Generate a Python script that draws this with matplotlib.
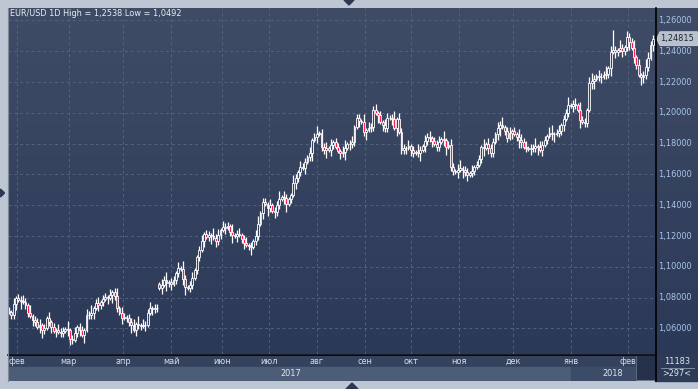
import numpy as np
import matplotlib
matplotlib.use("Agg")
import matplotlib.pyplot as plt
from matplotlib.colors import LinearSegmentedColormap
from matplotlib.patches import Rectangle, Polygon

# daily closes, EUR/USD, Feb 2017 - Feb 2018
closes = [
    1.0705, 1.0690, 1.0760, 1.0800, 1.0785, 1.0780, 1.0770, 1.0755, 1.0700, 1.0680,
    1.0655, 1.0640, 1.0610, 1.0620, 1.0590, 1.0600, 1.0670, 1.0640, 1.0610, 1.0585,
    1.0590, 1.0580, 1.0570, 1.0585, 1.0595, 1.0590, 1.0530, 1.0525, 1.0570, 1.0610,
    1.0590, 1.0560, 1.0590, 1.0690, 1.0685, 1.0700, 1.0733, 1.0765, 1.0755, 1.0770,
    1.0790, 1.0805, 1.0800, 1.0815, 1.0837, 1.0810, 1.0733, 1.0700, 1.0670, 1.0675,
    1.0665, 1.0640, 1.0620, 1.0590, 1.0630, 1.0625, 1.0615, 1.0625, 1.0620, 1.0700,
    1.0733, 1.0725, 1.0735, 1.0730, 1.0862, 1.0880, 1.0915, 1.0895, 1.0900, 1.0890,
    1.0915, 1.0960, 1.0990, 1.0985, 1.0920, 1.0870, 1.0865, 1.0885, 1.0930, 1.0980,
    1.1065, 1.1110, 1.1170, 1.1215, 1.1195, 1.1210, 1.1200, 1.1190, 1.1170, 1.1210,
    1.1240, 1.1260, 1.1255, 1.1265, 1.1225, 1.1205, 1.1200, 1.1215, 1.1210, 1.1180,
    1.1155, 1.1145, 1.1135, 1.1130, 1.1170, 1.1200, 1.1280, 1.1350, 1.1420, 1.1410,
    1.1380, 1.1400, 1.1360, 1.1355, 1.1400, 1.1440, 1.1455, 1.1450, 1.1410, 1.1440,
    1.1467, 1.1545, 1.1580, 1.1616, 1.1649, 1.1640, 1.1680, 1.1714, 1.1740, 1.1824,
    1.1844, 1.1860, 1.1870, 1.1780, 1.1760, 1.1770, 1.1760, 1.1790, 1.1810, 1.1780,
    1.1750, 1.1740, 1.1745, 1.1770, 1.1795, 1.1800, 1.1810, 1.1908, 1.1968, 1.1950,
    1.1940, 1.1876, 1.1890, 1.1900, 1.1910, 1.2016, 1.2000, 1.1985, 1.1940, 1.1920,
    1.1900, 1.1970, 1.1965, 1.1960, 1.1900, 1.1960, 1.1876, 1.1760, 1.1770, 1.1775,
    1.1785, 1.1760, 1.1740, 1.1745, 1.1740, 1.1760, 1.1785, 1.1820, 1.1846, 1.1840,
    1.1815, 1.1795, 1.1780, 1.1810, 1.1830, 1.1825, 1.1780, 1.1790, 1.1650, 1.1620,
    1.1616, 1.1630, 1.1645, 1.1630, 1.1616, 1.1597, 1.1610, 1.1625, 1.1650, 1.1660,
    1.1700, 1.1780, 1.1775, 1.1795, 1.1770, 1.1740, 1.1810, 1.1860, 1.1900, 1.1920,
    1.1910, 1.1880, 1.1835, 1.1870, 1.1880, 1.1860, 1.1846, 1.1825, 1.1810, 1.1780,
    1.1770, 1.1765, 1.1770, 1.1775, 1.1785, 1.1780, 1.1760, 1.1790, 1.1824, 1.1850,
    1.1870, 1.1860, 1.1865, 1.1870, 1.1880, 1.1920, 1.1960, 1.2000, 1.2050, 1.2045,
    1.2060, 1.2050, 1.2016, 1.1955, 1.1940, 1.1935, 1.2016, 1.2192, 1.2205, 1.2220,
    1.2240, 1.2230, 1.2235, 1.2245, 1.2250, 1.2290, 1.2396, 1.2410, 1.2396, 1.2410,
    1.2422, 1.2400, 1.2430, 1.2493, 1.2460, 1.2422, 1.2364, 1.2310, 1.2245, 1.2230,
    1.2245, 1.2296, 1.2354, 1.2439, 1.24815,
]
first_open = 1.0715
gap_open = {64: 1.0890}          # french election gap
high_fix = {257: 1.2538}
low_fix = {26: 1.0492}

# wick sizes, in 0.0013
wick_up = ("21312232141223121312" "13221412312213241231" "22131241321223141322"
           "31221324122131421231" "12312214231322141231" "23121341221312241321"
           "14213221312412231312" "21341231221413223121" "32124132213121421323"
           "12231412321341221312" "21413221324123121432" "31224132213412312241"
           "23142213421322413121" "42132241312432214231")
wick_dn = ("12231412213213421231" "31221342123141223132" "21314221312241322131"
           "13221314231221341221" "22131241322131241312" "31241221314213221341"
           "21322131241312241321" "13241322131241221413" "22131412231321241322"
           "31221341221314231221" "12413221341221312431" "21322413121341223121"
           "32141221341231224132" "13224132143221312241")

months = ["фев", "мар", "апр", "май", "июн", "июл", "авг", "сен", "окт", "ноя", "дек", "янв", "фев"]
month_start = [3.4, 25.5, 48.5, 69, 90.6, 110.6, 131, 151.5, 171, 191.5, 214.5, 239, 263.4]
years = ["2017", "2018"]
year_pos = [120, 257]
price_ticks = [1.06, 1.08, 1.10, 1.12, 1.14, 1.16, 1.18, 1.20, 1.22, 1.24, 1.26]

W, H = 698, 389
XLIM = (-0.43, 274.9)
YLIM = (1.04344, 1.2681)

closes = np.array(closes)
n = len(closes)
x = np.arange(n)
opens = np.r_[first_open, closes[:-1]]
for k, v in gap_open.items():
    opens[k] = v
body_lo = np.minimum(opens, closes)
body_hi = np.maximum(opens, closes)
highs = body_hi + np.array([int(c) for c in wick_up[:n]]) * 0.0013
lows = body_lo - np.array([int(c) for c in wick_dn[:n]]) * 0.0013
for k, v in high_fix.items():
    highs[k] = v
for k, v in low_fix.items():
    lows[k] = v
up = closes >= opens

plt.rcParams['font.family'] = ['DejaVu Sans']


def box(x0, y0, x1, y1):
    return [x0 / W, 1 - y1 / H, (x1 - x0) / W, (y1 - y0) / H]


def gradient(ax, top, bottom):
    cmap = LinearSegmentedColormap.from_list('g', [bottom, top])
    ax.imshow(np.linspace(0, 1, 256).reshape(-1, 1), cmap=cmap, aspect='auto',
              extent=[0, 1, 0, 1], transform=ax.transAxes, origin='lower', zorder=0)


fig = plt.figure(figsize=(W / 100, H / 100), dpi=100)
fig.patch.set_facecolor('#bdc6d2')

# main price panel
ax = fig.add_axes(box(8, 8, 655, 354))
gradient(ax, '#404c66', '#2b3958')
for v in price_ticks:
    ax.axhline(v, color='#53627e', lw=0.7, ls=(0, (3, 3)), zorder=1)
for m in month_start:
    ax.axvline(m, color='#53627e', lw=0.7, ls=(0, (3, 3)), zorder=1)
ax.vlines(x, lows, highs, color='white', lw=0.9, zorder=2)
ax.bar(x, np.maximum(body_hi - body_lo, 0.0002), bottom=body_lo, width=0.8,
       color=np.where(up, '#36435f', '#ff1f4f'), edgecolor='white', linewidth=0.6, zorder=3)
ax.set_xlim(*XLIM)
ax.set_ylim(*YLIM)
ax.set_xticks([])
ax.set_yticks([])
for s in ax.spines.values():
    s.set_visible(False)
ax.text(2 / 647, 1 - 6 / 346, "EUR/USD 1D High = 1,2538 Low = 1,0492", transform=ax.transAxes,
        color='#e8eef6', fontsize=5.9, va='center', ha='left')

# right price scale
rax = fig.add_axes(box(655, 8, 698, 354))
gradient(rax, '#404c66', '#2b3958')
rax.set_xlim(0, 43)
rax.set_ylim(*YLIM)
for v in price_ticks:
    rax.text(3, v, f"{v:.5f}".replace('.', ','), color='#a9c6ea', fontsize=5.9, va='center', ha='left')
last = closes[-1]
half = 7 / 1540
rax.add_patch(Polygon([(1.5, last), (5, last + half), (42.5, last + half), (42.5, last - half), (5, last - half)],
                      closed=True, facecolor='#b9c1cd', edgecolor='#d6dce4', lw=0.5, zorder=4))
rax.text(5.5, last, f"{last:.5f}".replace('.', ','), color='#1e2636', fontsize=5.9, va='center', ha='left', zorder=5)
rax.axis('off')

# date scale
dax = fig.add_axes(box(8, 354, 655, 381))
dax.set_xlim(*XLIM)
dax.set_ylim(381, 354)
dax.add_patch(Rectangle((XLIM[0], 355), XLIM[1] - XLIM[0], 12, color='#34425e'))
dax.add_patch(Rectangle((XLIM[0], 367), 239 - XLIM[0], 14, color='#4d5d78'))
dax.add_patch(Rectangle((239, 367), 266.8 - 239, 14, color='#3c4b67'))
for m, lab in zip(month_start, months):
    dax.text(m, 361, lab, color='#d5deea', fontsize=5.9, ha='center', va='center', clip_on=True)
for p, lab in zip(year_pos, years):
    dax.text(p, 373.5, lab, color='#e2e8f0', fontsize=5.9, ha='center', va='center')
dax.add_patch(Rectangle((266.8, 355), XLIM[1] - 266.8, 25, facecolor='#26324c', edgecolor='#6d7b93', lw=0.5, zorder=5))
dax.axis('off')

# overlay for frame details
oax = fig.add_axes([0, 0, 1, 1])
oax.set_xlim(0, W)
oax.set_ylim(H, 0)
oax.patch.set_alpha(0)
oax.axis('off')
oax.add_patch(Rectangle((655, 354), 43, 27, color='#2e3b57'))
oax.plot([8, 655], [354.5, 354.5], color='black', lw=1.2)
oax.plot([655.5, 655.5], [8, 381], color='black', lw=1.2)
oax.plot([7.5, 7.5], [8, 381], color='#7d8899', lw=0.8)
oax.text(677, 361, "11183", color='#dfe6f0', fontsize=5.9, ha='center', va='center')
oax.plot([661, 694], [367.5, 367.5], color='#8d9ab0', lw=0.6)
oax.text(677, 374, ">297<", color='#dfe6f0', fontsize=5.9, ha='center', va='center')
oax.add_patch(Polygon([(344, 0), (354, 0), (349, 5)], color='#2b3950'))
oax.add_patch(Polygon([(346, 389), (358, 389), (352, 383)], color='#2b3950'))
oax.add_patch(Polygon([(0.5, 189), (0.5, 197), (4.5, 193)], color='#2b3950'))

fig.savefig("out.png", dpi=100, facecolor=fig.get_facecolor())
